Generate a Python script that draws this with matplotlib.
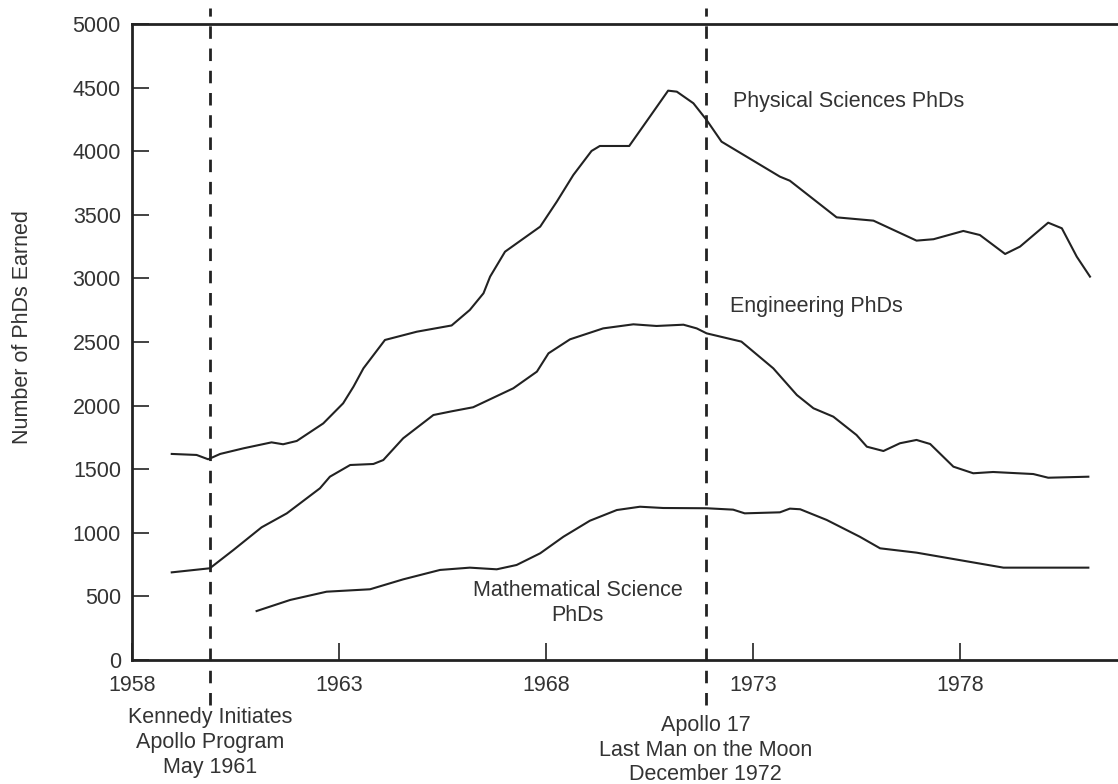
import matplotlib.pyplot as plt

plt.rcParams['font.family'] = ['Liberation Sans', 'DejaVu Sans']

# Physical Sciences PhDs
phys_years = [1958.96, 1959.56, 1959.84, 1960.13, 1960.69, 1961.37, 1961.65, 1961.98,
              1962.62, 1963.10, 1963.35, 1963.59, 1964.11, 1964.88, 1965.72, 1966.16,
              1966.49, 1966.65, 1967.01, 1967.86, 1968.26, 1968.66, 1969.10, 1969.30,
              1970.01, 1970.51, 1970.95, 1971.16, 1971.56, 1971.88, 1972.24, 1973.65,
              1973.89, 1975.02, 1975.91, 1976.95, 1977.36, 1978.08, 1978.48, 1979.09,
              1979.45, 1980.13, 1980.46, 1980.82, 1981.14]
phys_vals = [1620, 1612, 1578, 1620, 1664, 1711, 1696, 1722,
             1860, 2018, 2149, 2293, 2516, 2581, 2630, 2752,
             2883, 3014, 3210, 3407, 3603, 3813, 4002, 4041,
             4041, 4272, 4476, 4468, 4377, 4245, 4075, 3800,
             3768, 3480, 3454, 3297, 3308, 3373, 3341, 3192,
             3250, 3438, 3394, 3171, 3014]

# Engineering PhDs
eng_years = [1958.96, 1959.88, 1960.45, 1961.13, 1961.74, 1962.54, 1962.78, 1963.27,
             1963.83, 1964.07, 1964.55, 1965.28, 1965.72, 1966.24, 1967.21, 1967.78,
             1968.06, 1968.58, 1969.38, 1970.11, 1970.67, 1971.32, 1971.64, 1971.88,
             1972.72, 1973.49, 1974.06, 1974.46, 1974.94, 1975.50, 1975.75, 1976.15,
             1976.55, 1976.95, 1977.28, 1977.84, 1978.32, 1978.80, 1979.77, 1980.13,
             1981.10]
eng_vals = [689, 721, 865, 1043, 1153, 1350, 1441, 1533,
            1541, 1572, 1743, 1926, 1955, 1987, 2136, 2267,
            2411, 2521, 2607, 2639, 2626, 2636, 2607, 2568,
            2503, 2293, 2083, 1979, 1913, 1769, 1677, 1643,
            1704, 1730, 1698, 1520, 1468, 1478, 1462, 1433,
            1441]

# Mathematical Science PhDs
math_years = [1961.01, 1961.82, 1962.70, 1963.75, 1964.55, 1965.44, 1966.16, 1966.81,
              1967.29, 1967.86, 1968.42, 1969.06, 1969.71, 1970.27, 1970.83, 1971.88,
              1972.52, 1972.80, 1973.65, 1973.89, 1974.14, 1974.78, 1975.58, 1976.07,
              1976.95, 1979.05, 1981.10]
math_vals = [385, 472, 537, 556, 634, 708, 726, 713,
             747, 839, 969, 1095, 1179, 1205, 1195, 1193,
             1182, 1153, 1161, 1190, 1185, 1101, 969, 878,
             844, 726, 726]

events = [1959.88, 1971.86]
event_labels = ["Kennedy Initiates\nApollo Program\nMay 1961",
                "Apollo 17\nLast Man on the Moon\nDecember 1972"]

x_ticks = [1958, 1963, 1968, 1973, 1978]
y_ticks = [0, 500, 1000, 1500, 2000, 2500, 3000, 3500, 4000, 4500, 5000]

ink = "#222222"
txt = "#333333"
fs = 15.5

fig = plt.figure(figsize=(11.18, 7.84), dpi=100)
ax = fig.add_axes([132 / 1118, 1 - 660 / 784, 1 - 132 / 1118, 636 / 784])

for xs, ys in [(phys_years, phys_vals), (eng_years, eng_vals), (math_years, math_vals)]:
    ax.plot(xs, ys, color=ink, lw=1.5, solid_joinstyle="round")

# event markers, running past the axes
label_y = [-650, -708]
for ex, lab, ly in zip(events, event_labels, label_y):
    ax.plot([ex, ex], [-354, 5126], color=ink, lw=2.0, ls=(0, (4.5, 3.5)), clip_on=False)
    ax.text(ex, ly, lab, ha="center", va="center", fontsize=fs, color=txt, linespacing=1.23)

ax.text(1972.52, 4390, "Physical Sciences PhDs", fontsize=fs, color=txt, va="center")
ax.text(1972.44, 2778, "Engineering PhDs", fontsize=fs, color=txt, va="center")
ax.text(1968.77, 448, "Mathematical Science\nPhDs", fontsize=fs, color=txt,
        ha="center", va="center", linespacing=1.22)

ax.set_xlim(1958, 1958 + (1118 - 132) / 41.4)
ax.set_ylim(0, 5000)
ax.set_xticks(x_ticks)
ax.set_yticks(y_ticks)
ax.tick_params(direction="in", length=12, width=1.2, color=ink, labelsize=fs,
               labelcolor=txt)
ax.tick_params(axis="x", pad=11)
ax.tick_params(axis="y", pad=8)
ax.set_ylabel("Number of PhDs Earned", fontsize=fs, color=txt)
ax.yaxis.set_label_coords(-0.1005, 0.524)

for side in ["left", "bottom", "top"]:
    ax.spines[side].set_linewidth(2.0)
    ax.spines[side].set_color(ink)
ax.spines["right"].set_visible(False)

fig.savefig("out.png", dpi=100)
